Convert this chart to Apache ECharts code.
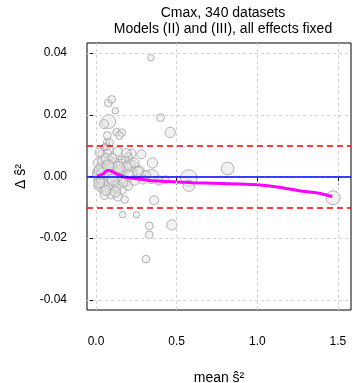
<!DOCTYPE html>
<html>
<head>
<meta charset="utf-8">
<script src="https://cdn.jsdelivr.net/npm/echarts@6/dist/echarts.min.js"></script>
<style>
  html, body { margin: 0; padding: 0; background: #fff; }
  #chart { width: 353px; height: 383px; }
</style>
</head>
<body>
<div id="chart"></div>
<script>
// tick labels
const xTicks = [0, 0.5, 1.0, 1.5];
const yTicks = [-0.04, -0.02, 0.00, 0.02, 0.04];

// one point per dataset group: mean s^2, delta s^2, weight (drives circle size)
const pointX = [
  0.34, 0.076, 0.097, 0.12, 0.078, 0.05, 0.40, 0.46, 0.128, 0.159,
  0.145, 0.07, 0.066, 0.066, 0.075, 0.035, 0.07, 0.22, 0.20, 0.16,
  0.18, 0.23, 0.35, 0.816, 0.27, 0.30, 0.345, 0.39, 0.43, 0.575,
  0.575, 1.47, 0.177, 0.36, 0.165, 0.25, 0.33, 0.33, 0.47, 0.31,
  0.022, 0.135, 0.188, 0.281,
  0.011, 0.042, 0.084, 0.115, 0.157, 0.208, 0.239,
  0.011, 0.053, 0.094, 0.125, 0.166, 0.219, 0.260, 0.312,
  0.022, 0.063, 0.104, 0.146, 0.188, 0.239, 0.291,
  0.032, 0.073, 0.115, 0.157, 0.198,
  0.053, 0.094, 0.135,
  0.005, 0.010, 0.030, 0.045, 0.060, 0.080, 0.100, 0.110, 0.130, 0.150,
  0.170, 0.190, 0.085, 0.050,
  0.020, 0.040, 0.060, 0.090, 0.120, 0.140, 0.020, 0.075, 0.105, 0.200
];
const pointY = [
  0.0385, 0.0238, 0.0250, 0.0213, 0.0178, 0.0170, 0.0191, 0.0143, 0.0144, 0.0142,
  0.0133, 0.0133, 0.0111, 0.0097, 0.0088, 0.0074, 0.0074, 0.0074, 0.0065, 0.0054,
  0.0054, 0.0033, 0.0044, 0.0026, 0.0020, 0.0003, 0.0000, -0.0013, -0.0010, -0.0005,
  -0.0030, -0.0069, -0.0075, -0.0077, -0.0124, -0.0124, -0.0160, -0.0189, -0.0157, -0.0268,
  0.0078, 0.0081, 0.0076, 0.0072,
  0.0045, 0.0050, 0.0048, 0.0043, 0.0040, 0.0035, 0.0045,
  0.0015, 0.0020, 0.0025, 0.0012, 0.0015, 0.0010, 0.0015, 0.0005,
  -0.0010, -0.0005, -0.0015, -0.0008, -0.0015, -0.0012, -0.0010,
  -0.0035, -0.0040, -0.0035, -0.0042, -0.0030,
  -0.0060, -0.0058, -0.0065,
  0.0005, -0.0030, 0.0030, -0.0020, 0.0060, -0.0025, 0.0060, 0.0005, -0.0030, 0.0020,
  -0.0020, 0.0030, 0.0110, 0.0095,
  0.0020, 0.0010, -0.0045, 0.0000, -0.0050, 0.0030, -0.0020, 0.0035, -0.0010, 0.0005
];
const pointWeight = [
  2, 3, 3, 2, 8, 4, 3, 5, 3, 3,
  3, 3, 2, 3, 5, 3, 4, 4, 3, 3,
  3, 6, 5, 7, 4, 4, 8, 4, 3, 10,
  6, 8, 3, 4, 2, 2, 3, 3, 5, 3,
  4, 4, 4, 4,
  4, 5, 6, 5, 5, 6, 4,
  5, 7, 6, 6, 5, 6, 5, 4,
  6, 7, 7, 6, 5, 5, 4,
  5, 6, 6, 5, 4,
  4, 4, 4,
  4, 3, 4, 5, 4, 5, 4, 6, 5, 5,
  4, 5, 3, 2,
  5, 6, 5, 7, 5, 6, 5, 6, 6, 5
];

// smoothed trend
const trendX = [0.004, 0.045, 0.076, 0.107, 0.138, 0.179, 0.251, 0.333, 0.436, 0.601, 0.869, 1.002, 1.136, 1.259, 1.383, 1.465];
const trendY = [0.0000, 0.0009, 0.0020, 0.0014, 0.0006, -0.0002, -0.0007, -0.0013, -0.0016, -0.0020, -0.0024, -0.0027, -0.0035, -0.0046, -0.0054, -0.0065];

// reference lines
const meanLine = 0.0007;
const limits = [0.0105, -0.0105];

const chart = echarts.init(document.getElementById('chart'));

const gridStyle = { color: '#d0d0d0', type: [3, 3], width: 1 };

const option = {
  animation: false,
  textStyle: { fontFamily: 'Liberation Sans, Arial, sans-serif' },
  title: {
    text: 'Cmax, 340 datasets\nModels (II) and (III), all effects fixed',
    left: 218,
    top: 0,
    textAlign: 'center',
    textStyle: { fontSize: 14, fontWeight: 'normal', color: '#000', lineHeight: 16 }
  },
  grid: {
    left: 87, right: 2, top: 43, bottom: 73,
    outerBoundsMode: 'none',
    show: true, borderColor: '#000', borderWidth: 1
  },
  xAxis: {
    type: 'value',
    min: -0.056, max: 1.581,
    name: 'mean ŝ²',
    nameLocation: 'middle',
    nameGap: 61,
    nameTextStyle: { fontSize: 14, color: '#000' },
    axisLine: { show: false },
    axisTick: { show: true, length: 8, inside: false, lineStyle: { color: '#000' }, customValues: xTicks },
    axisLabel: { fontSize: 12, color: '#000', margin: 26, customValues: xTicks,
      formatter: v => v.toFixed(1) },
    splitLine: { show: false }
  },
  yAxis: {
    type: 'value',
    min: -0.0433, max: 0.0433,
    name: 'Δ ŝ²',
    nameLocation: 'middle',
    nameGap: 59,
    nameRotate: 90,
    nameTextStyle: { fontSize: 14, color: '#000' },
    axisLine: { show: false },
    axisTick: { show: true, length: 9, lineStyle: { color: '#000' }, customValues: yTicks },
    axisLabel: { fontSize: 12, color: '#000', margin: 20, customValues: yTicks,
      formatter: v => v.toFixed(2) },
    splitLine: { show: false }
  },
  series: [
    {
      // dotted grid
      type: 'line', data: [], silent: true, z: 1,
      markLine: {
        silent: true, symbol: 'none', label: { show: false },
        lineStyle: gridStyle,
        data: xTicks.map(v => ({ xAxis: v })).concat(yTicks.map(v => ({ yAxis: v })))
      }
    },
    {
      type: 'line', data: [], silent: true, z: 2,
      markLine: {
        silent: true, symbol: 'none', label: { show: false },
        data: [
          { yAxis: meanLine, lineStyle: { color: '#0000ff', width: 1.5, type: 'solid' } },
          ...limits.map(v => ({ yAxis: v, lineStyle: { color: '#ff0000', width: 1.5, type: [6, 4] } }))
        ]
      }
    },
    {
      type: 'scatter', z: 3,
      data: pointX.map((x, i) => [x, pointY[i], pointWeight[i]]),
      symbolSize: d => 4 + d[2] * 1.25,
      itemStyle: { color: 'rgba(228,228,228,0.6)', borderColor: '#a0a0a0', borderWidth: 1 }
    },
    {
      type: 'line', z: 4,
      data: trendX.map((x, i) => [x, trendY[i]]),
      smooth: 0.3, symbol: 'none',
      lineStyle: { color: '#ff00ff', width: 3 }
    }
  ]
};

chart.setOption(option);
</script>
</body>
</html>
